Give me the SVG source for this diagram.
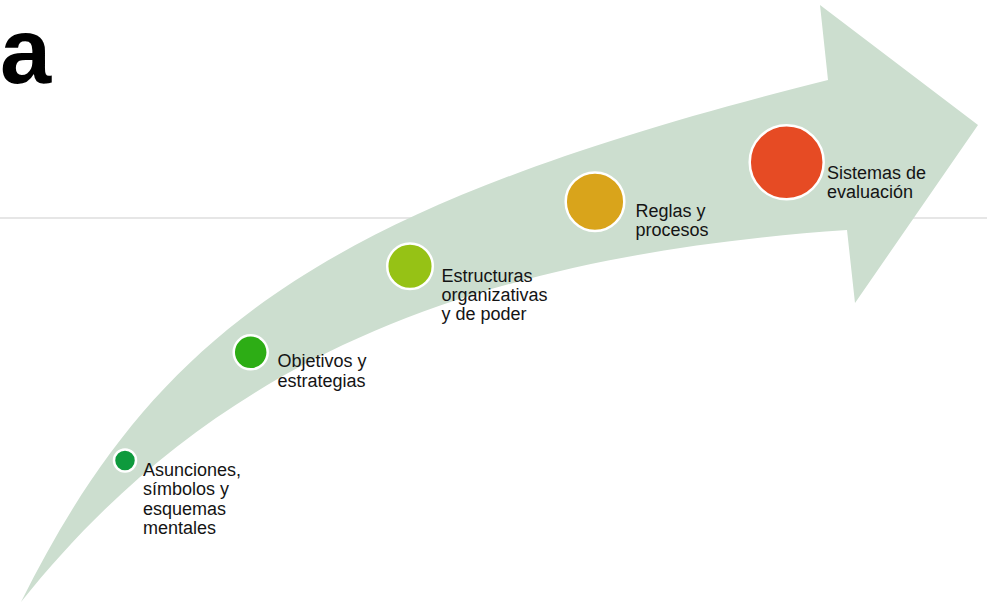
<svg xmlns="http://www.w3.org/2000/svg" width="987" height="603" viewBox="0 0 987 603">
<style>
.lbl{font-family:"Liberation Sans",Arial,sans-serif;font-size:18px;fill:#141414}
.dot{stroke:#ffffff;stroke-width:2.5}
</style>
<rect width="987" height="603" fill="#ffffff"/>
<text x="0" y="83" font-family="Liberation Sans, Arial, sans-serif" font-size="92" font-weight="bold" fill="#000000">a</text>
<line x1="0" y1="218" x2="987" y2="218" stroke="#e6e6e6" stroke-width="2"/>
<g id="arrow">
<path d="M21,602 C158,327 329,205 828,80 L820,5 L978,125 L855,303 L847,230 C455,257 207,369 21,602 Z" fill="#ccdecf"/>
</g>
<g id="node1">
<circle class="dot" cx="125" cy="460.5" r="11" fill="#0e9a3d"/>
<text class="lbl"><tspan x="143" y="476">Asunciones,</tspan><tspan x="143" y="495.3">símbolos y</tspan><tspan x="143" y="514.5">esquemas</tspan><tspan x="143" y="533.8">mentales</tspan></text>
</g>
<g id="node2">
<circle class="dot" cx="250.7" cy="352.3" r="17" fill="#2dad15"/>
<text class="lbl"><tspan x="277.5" y="367.3">Objetivos y</tspan><tspan x="277.5" y="386.5">estrategias</tspan></text>
</g>
<g id="node3">
<circle class="dot" cx="410" cy="266.3" r="22.8" fill="#96c215"/>
<text class="lbl"><tspan x="441.5" y="281.7">Estructuras</tspan><tspan x="441.5" y="300.9">organizativas</tspan><tspan x="441.5" y="320.1">y de poder</tspan></text>
</g>
<g id="node4">
<circle class="dot" cx="595" cy="201.7" r="29.3" fill="#d9a41b"/>
<text class="lbl"><tspan x="635.5" y="216.7">Reglas y</tspan><tspan x="635.5" y="235.9">procesos</tspan></text>
</g>
<g id="node5">
<circle class="dot" cx="786.7" cy="162.3" r="37" fill="#e64b24"/>
<text class="lbl"><tspan x="827" y="178.5">Sistemas de</tspan><tspan x="827" y="197.7">evaluación</tspan></text>
</g>
<g id="connectors"/>
</svg>
